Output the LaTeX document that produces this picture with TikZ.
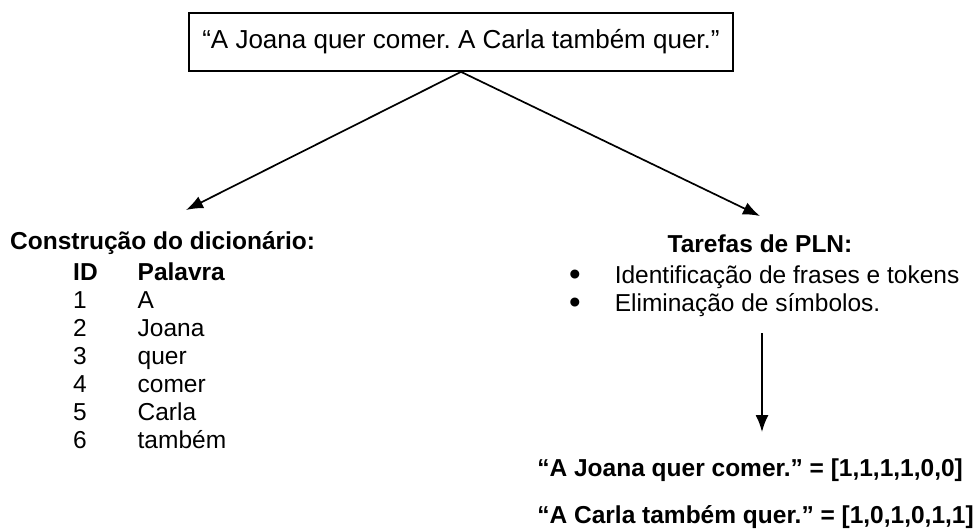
\documentclass[tikz,border=0pt]{standalone}
\usepackage{fontspec}
\setmainfont{Liberation Sans}
\usetikzlibrary{arrows.meta}
\frenchspacing
\newcommand{\fonte}{\fontsize{24.5}{28}\selectfont}
\newcommand{\marca}{\smash{\raisebox{-1.5pt}{\scalebox{1.35}{\textbullet}}}}

\begin{document}
\begin{tikzpicture}[x=1pt,y=-1pt,>={Latex[length=17pt,width=13pt]},
	every node/.style={font=\fonte},
	caixa/.style={draw,line width=1.7pt,inner xsep=13pt,minimum height=58pt,
		font=\fontsize{26}{30}\selectfont},
	seta/.style={->,line width=1.7pt},
	texto/.style={inner sep=0pt,anchor=base west}]
	\useasboundingbox (0,0) rectangle (978,531);
	% frase de entrada
	\node [caixa] (frase) at (461,42) {“A Joana quer comer. A Carla também quer.”};
	% dicionario
	\node [texto] (dic) at (10,249) {\textbf{Construção do dicionário:}};
	\node [inner sep=0pt,anchor=north west] (tab) at (73,261) {%
		\begin{tabular}{@{}l@{\hspace{40pt}}l@{}}
			\textbf{ID} & \textbf{Palavra}\\
			1 & A\\
			2 & Joana\\
			3 & quer\\
			4 & comer\\
			5 & Carla\\
			6 & também
		\end{tabular}};
	% tarefas
	\node [inner sep=0pt,anchor=base] (pln) at (760,252) {\textbf{Tarefas de PLN:}};
	\node [inner sep=0pt,anchor=north west] (tarefas) at (569,264) {%
		\begin{tabular}{@{}l@{\hspace{34pt}}l@{}}
			\marca & Identificação de frases e tokens\\
			\marca & Eliminação de símbolos.
		\end{tabular}};
	\coordinate (t1) at (762,333);
	\coordinate (t2) at (762,432);
	% vetores
	\node [texto,anchor=base east] (vec2) at (974,523) {\textbf{“A Carla também quer.” = [1,0,1,0,1,1]}};
	\node [texto] (vec1) at (vec2.base west |- 0,476) {\textbf{“A Joana quer comer.” = [1,1,1,1,0,0]}};
	% setas
	\draw [seta] (frase.south) -- (186,210);
	\draw [seta] (frase.south) -- (760,216);
	\draw [seta] (t1) -- (t2);
\end{tikzpicture}
\end{document}
